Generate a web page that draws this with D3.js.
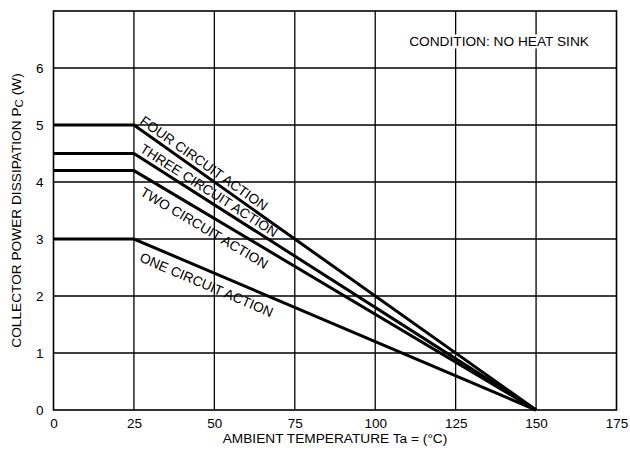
<!DOCTYPE html>
<html>
<head>
<meta charset="utf-8">
<script src="https://cdn.jsdelivr.net/npm/d3@7"></script>
<style>
  html, body { margin: 0; padding: 0; background: #fff; }
  svg { display: block; }
  text { font-family: "Liberation Sans", Arial, Helvetica, sans-serif; fill: #000; }
</style>
</head>
<body>
<svg id="chart" width="630" height="452"></svg>
<script>
// ---- data ----
const temperatures = [0, 25, 150];
const fourCircuit  = [5.0, 5.0, 0];
const threeCircuit = [4.5, 4.5, 0];
const twoCircuit   = [4.2, 4.2, 0];
const oneCircuit   = [3.0, 3.0, 0];
const seriesNames  = ["FOUR CIRCUIT ACTION", "THREE CIRCUIT ACTION", "TWO CIRCUIT ACTION", "ONE CIRCUIT ACTION"];
const xTickValues  = [0, 25, 50, 75, 100, 125, 150, 175];
const yTickValues  = [0, 1, 2, 3, 4, 5, 6];
const xTitle = "AMBIENT TEMPERATURE Ta = (°C)";
const yTitleMain = "COLLECTOR POWER DISSIPATION P";
const yTitleSub = "C";
const yTitleEnd = " (W)";
const conditionText = "CONDITION: NO HEAT SINK";

// ---- layout ----
const svg = d3.select("#chart");
const mLeft = 53.5, mRight = 616.5, mTop = 11, mBottom = 410;
const x = d3.scaleLinear().domain([0, 175]).range([mLeft, mRight]);
const y = d3.scaleLinear().domain([0, 7]).range([mBottom, mTop]);
const FS = 13.7;

// gridlines
const grid = svg.append("g").attr("stroke", "#000").attr("stroke-width", 1.3);
grid.selectAll(".vg").data(xTickValues.slice(1, -1)).enter().append("line")
  .attr("x1", d => x(d)).attr("x2", d => x(d))
  .attr("y1", y(7)).attr("y2", y(0));
grid.selectAll(".hg").data(yTickValues.slice(1)).enter().append("line")
  .attr("x1", x(0)).attr("x2", x(175))
  .attr("y1", d => y(d)).attr("y2", d => y(d));

// condition text with white background
const cond = svg.append("g");
const condText = cond.append("text")
  .attr("x", x(138.5)).attr("y", 45.5)
  .attr("text-anchor", "middle")
  .attr("font-size", FS)
  .text(conditionText);
const bb = condText.node().getBBox();
cond.insert("rect", "text")
  .attr("x", bb.x - 2).attr("y", bb.y + 1)
  .attr("width", bb.width + 4).attr("height", bb.height - 1)
  .attr("fill", "#fff");

// frame
svg.append("rect")
  .attr("x", x(0)).attr("y", y(7))
  .attr("width", x(175) - x(0)).attr("height", y(0) - y(7))
  .attr("fill", "none").attr("stroke", "#000").attr("stroke-width", 1.6);

// axes (labels only)
const xAxis = d3.axisBottom(x).tickValues(xTickValues).tickSize(0).tickPadding(8).tickFormat(d3.format("d"));
const gx = svg.append("g").attr("transform", `translate(0,${mBottom})`).call(xAxis);
gx.select(".domain").remove();
gx.selectAll("text").attr("font-size", 13.5).attr("fill", "#000")
  .style("font-family", '"Liberation Sans", Arial, sans-serif');

const yAxis = d3.axisLeft(y).tickValues(yTickValues).tickSize(0).tickPadding(10).tickFormat(d3.format("d"));
const gy = svg.append("g").attr("transform", `translate(${mLeft},0)`).call(yAxis);
gy.select(".domain").remove();
gy.selectAll("text").attr("font-size", 13.5).attr("fill", "#000")
  .style("font-family", '"Liberation Sans", Arial, sans-serif');

// series lines
const series = [fourCircuit, threeCircuit, twoCircuit, oneCircuit];
const line = d3.line().x((d, i) => x(temperatures[i])).y(d => y(d));
svg.append("g").selectAll("path").data(series).enter().append("path")
  .attr("d", d => line(d))
  .attr("fill", "none").attr("stroke", "#000").attr("stroke-width", 3)
  .attr("stroke-linejoin", "miter");

// series labels along the sloped part
const labelPlacement = [
  { along: 3,  offset: -4.5 },
  { along: 3,  offset: -4.5 },
  { along: 17, offset: 18 },
  { along: 13, offset: 18.5 }
];
series.forEach((s, i) => {
  const x0 = x(temperatures[1]), y0 = y(s[1]);
  const x1 = x(temperatures[2]), y1 = y(s[2]);
  const ang = Math.atan2(y1 - y0, x1 - x0);
  const dx = Math.cos(ang), dy = Math.sin(ang);
  const nx = -dy, ny = dx;
  const p = labelPlacement[i];
  const px = x0 + dx * p.along + nx * p.offset;
  const py = y0 + dy * p.along + ny * p.offset;
  svg.append("text")
    .attr("transform", `translate(${px},${py}) rotate(${ang * 180 / Math.PI})`)
    .attr("font-size", FS)
    .text(seriesNames[i]);
});

// axis titles
svg.append("text")
  .attr("x", (mLeft + mRight) / 2).attr("y", 443)
  .attr("text-anchor", "middle").attr("font-size", FS)
  .text(xTitle);

const yt = svg.append("text")
  .attr("transform", `translate(21,${(mTop + mBottom) / 2}) rotate(-90)`)
  .attr("text-anchor", "middle").attr("font-size", FS);
yt.append("tspan").text(yTitleMain);
yt.append("tspan").attr("font-size", 11.5).attr("dy", 2).text(yTitleSub);
yt.append("tspan").attr("dy", -2).text(yTitleEnd);
</script>
</body>
</html>
